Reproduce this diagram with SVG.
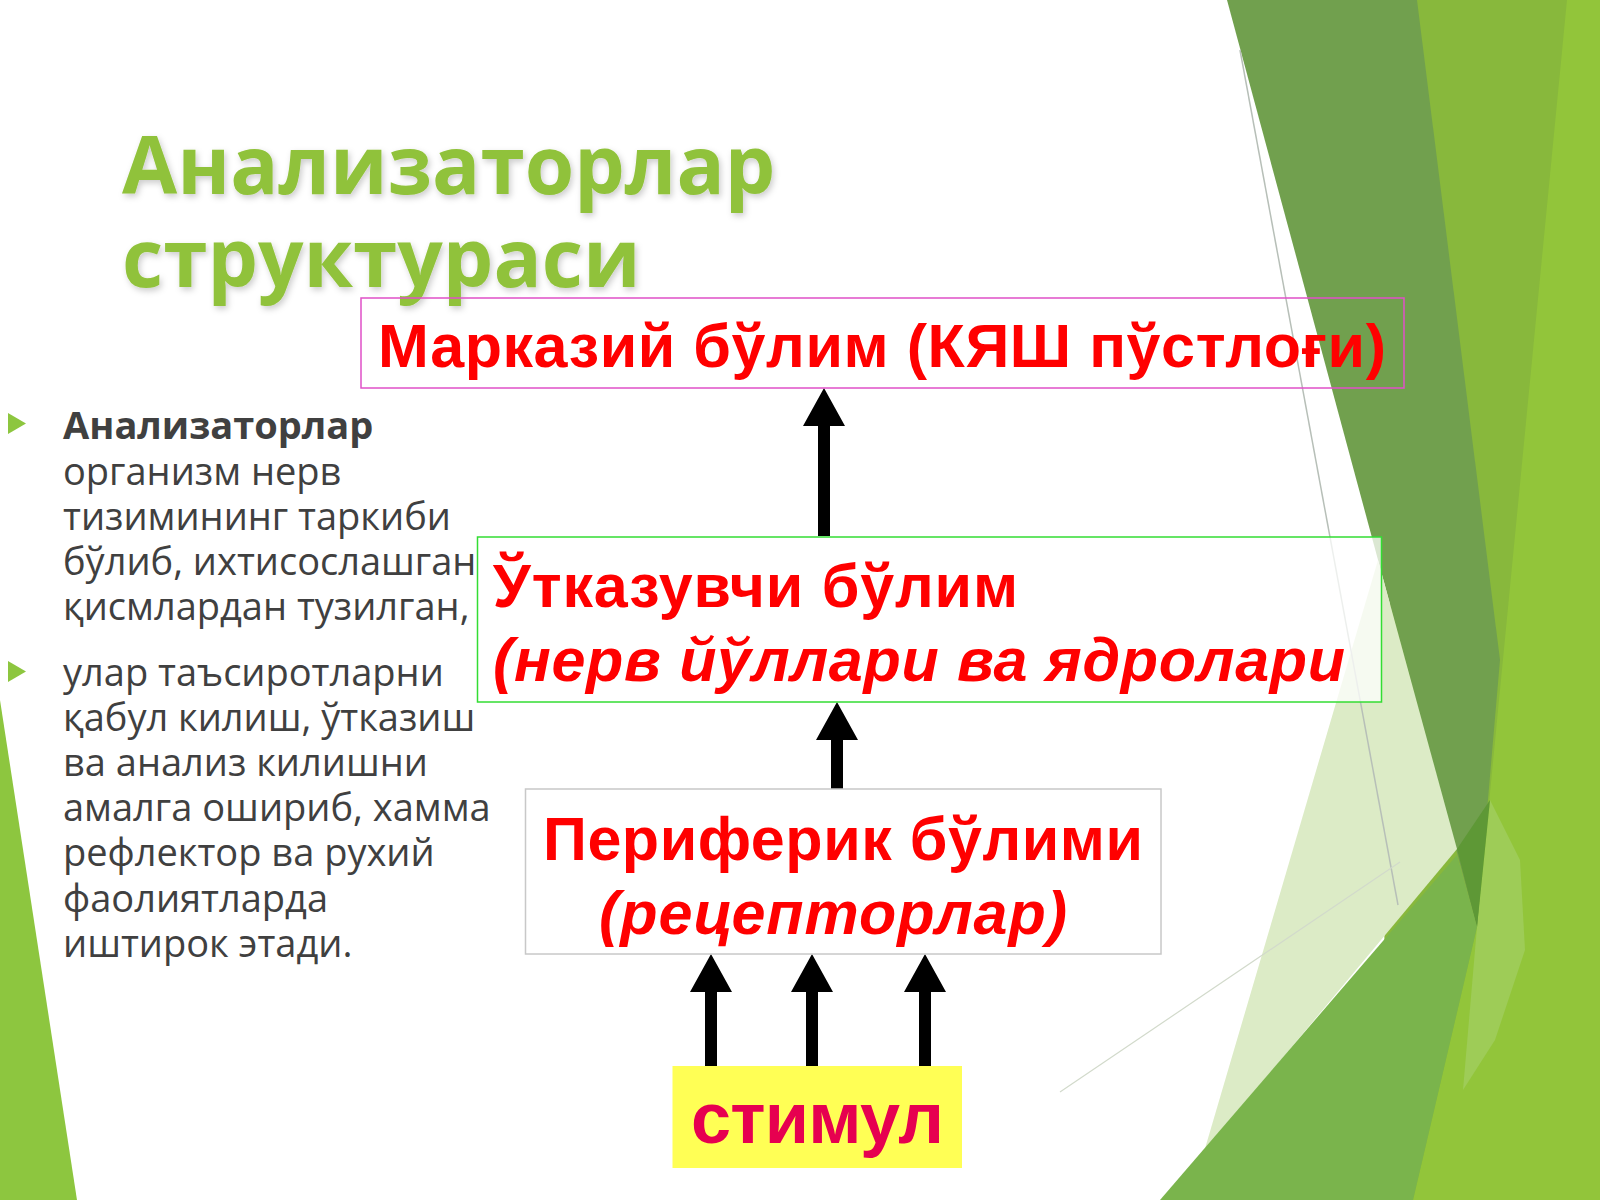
<svg xmlns="http://www.w3.org/2000/svg" width="1600" height="1200" viewBox="0 0 1600 1200">
<defs>
<style>
.red{font-family:"Liberation Sans",Arial,sans-serif;font-weight:bold;fill:#FF0000;font-size:61px}
.it{font-style:italic}
.body{font-family:"Open Sans","Noto Sans",sans-serif;font-size:38px;fill:#404040}
.title{font-family:"Open Sans","Noto Sans",sans-serif;font-weight:bold;font-size:80px;fill:#90C23B}
.arrow{fill:#000}
.bullet{fill:#8DC63F}
</style>
<filter id="sh" x="-5%" y="-20%" width="110%" height="140%">
<feDropShadow dx="2" dy="3" stdDeviation="3" flood-color="#000" flood-opacity="0.2"/>
</filter>
</defs>
<rect width="1600" height="1200" fill="#FFFFFF"/>
<g id="background">
<polygon points="1400,0 1600,0 1600,1200 1380,1200" fill="#88B83C"/>
<polygon points="1567,0 1600,0 1600,1200 1413,1200 1477,927" fill="#92C53A"/>
<polygon points="1490,800 1520,860 1525,950 1495,1040 1463,1090 1477,927" fill="#9ECC57"/>
<polygon points="1227,0 1417,0 1500,660 1477,927" fill="#71A04E"/>
<polygon points="1457,849 1490,800 1477,927" fill="#5E9836"/>
<polygon points="1378,560 1457,849 1204,1152" fill="#DCEBC6"/>
<polygon points="1457,855 1477,927 1413,1200 1160,1200" fill="#7AB44C"/>
<line x1="1240" y1="50" x2="1398" y2="905" stroke="#B7BFB8" stroke-width="1.5"/>
<line x1="1060" y1="1092" x2="1400" y2="862" stroke="#D2DACB" stroke-width="1.2"/>
<polygon points="0,700 77,1200 0,1200" fill="#8DC63F"/>
</g>
<g id="title" filter="url(#sh)">
<text class="title" x="122" y="194">Анализаторлар</text>
<text class="title" x="122" y="287">структураси</text>
</g>
<g id="bullets">
<polygon class="bullet" points="8,413 26,423.5 8,434"/>
<polygon class="bullet" points="8,661 26,671.5 8,682"/>
<text class="body" x="63">
<tspan x="63" y="439" font-weight="bold">Анализаторлар</tspan>
<tspan x="63" y="485">организм нерв</tspan>
<tspan x="63" y="530">тизимининг таркиби</tspan>
<tspan x="63" y="575">бўлиб, ихтисослашган</tspan>
<tspan x="63" y="620">қисмлардан тузилган,</tspan>
<tspan x="63" y="686">улар таъсиротларни</tspan>
<tspan x="63" y="731">қабул килиш, ўтказиш</tspan>
<tspan x="63" y="776">ва анализ килишни</tspan>
<tspan x="63" y="821">амалга ошириб, хамма</tspan>
<tspan x="63" y="866">рефлектор ва рухий</tspan>
<tspan x="63" y="912">фаолиятларда</tspan>
<tspan x="63" y="957">иштирок этади.</tspan>
</text>
</g>
<g id="connectors">
<polygon class="arrow" points="818,536 830,536 830,426 845,426 824,388 803,426 818,426"/>
<polygon class="arrow" points="831,789 843,789 843,740 858,740 837,702 816,740 831,740"/>
<polygon class="arrow" points="705,1066 717,1066 717,992 732,992 711,954 690,992 705,992"/>
<polygon class="arrow" points="806,1066 818,1066 818,992 833,992 812,954 791,992 806,992"/>
<polygon class="arrow" points="919,1066 931,1066 931,992 946,992 925,954 904,992 919,992"/>
</g>
<g id="node-central">
<rect x="361" y="298" width="1043" height="90" fill="none" stroke="#E050C8" stroke-width="1.5"/>
<text class="red" x="378" y="367" textLength="1008">Марказий бўлим (КЯШ пўстлоғи)</text>
</g>
<g id="node-conductive">
<rect x="477.5" y="537" width="904" height="165" fill="#FFFFFF" fill-opacity="0.75" stroke="#33DD33" stroke-width="1.5"/>
<text class="red" x="493" y="607" textLength="525">Ўтказувчи бўлим</text>
<text class="red it" x="493" y="681" textLength="852">(нерв йўллари ва ядролари</text>
</g>
<g id="node-peripheral">
<rect x="525.5" y="789" width="635.5" height="165" fill="#FFFFFF" stroke="#C8C8C8" stroke-width="1.5"/>
<text class="red" x="543" y="860" textLength="600">Периферик бўлими</text>
<text class="red it" x="599" y="934" textLength="468">(рецепторлар)</text>
</g>
<g id="node-stimulus">
<rect x="672.5" y="1066" width="289.5" height="102" fill="#FFFF55"/>
<text class="red" x="691" y="1143" style="fill:#E60050;font-size:72px" textLength="253">стимул</text>
</g>
</svg>
